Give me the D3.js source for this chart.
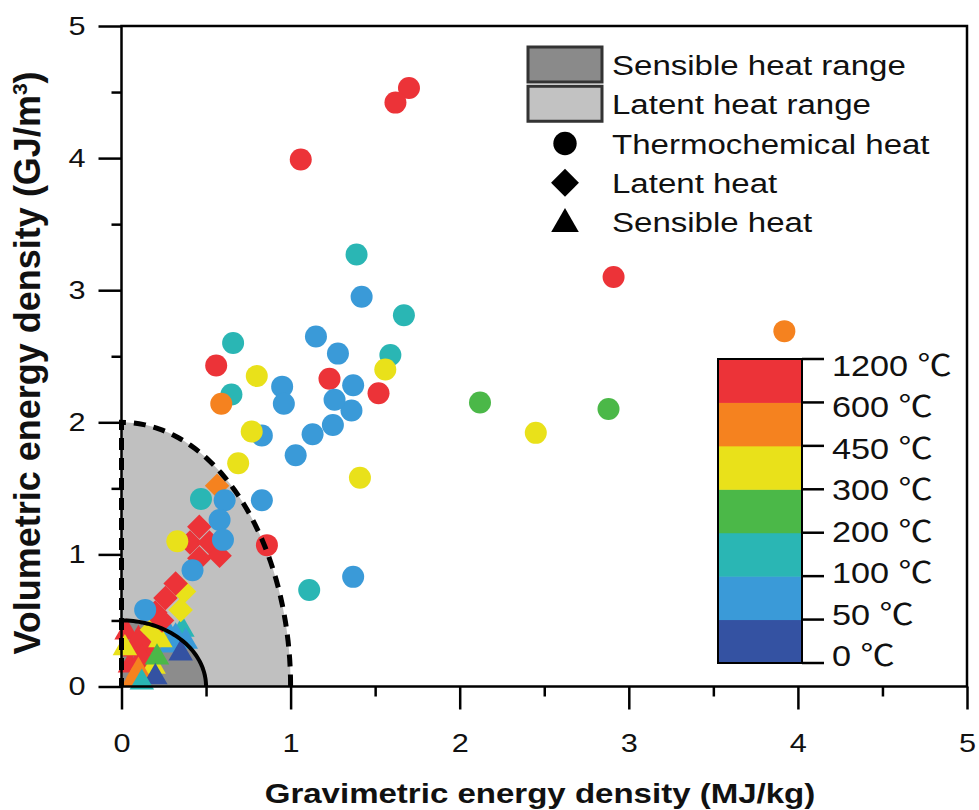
<!DOCTYPE html>
<html>
<head>
<meta charset="utf-8">
<script src="https://cdn.jsdelivr.net/npm/d3@7"></script>
<style>
  body { margin: 0; background: #fff; }
  text { font-family: "Liberation Sans", Arial, "Noto Sans CJK SC", sans-serif; fill: #111; }
</style>
</head>
<body>
<svg id="chart" width="979" height="810"></svg>
<script>
// temperature classes (upper bound of each colour band) and colour bar ticks
const tempBands = [50, 100, 200, 300, 450, 600, 1200];
const tempTicks = [0, 50, 100, 200, 300, 450, 600, 1200];
const axisTicks = [0, 1, 2, 3, 4, 5];

// [gravimetric MJ/kg, volumetric GJ/m3, temperature class]
const thermochemical = [
  [1.70, 4.53, 1200], [1.62, 4.42, 1200], [1.06, 3.99, 1200], [2.91, 3.10, 1200],
  [3.92, 2.69, 600], [1.39, 3.27, 200], [1.42, 2.95, 100], [1.67, 2.81, 200],
  [1.59, 2.51, 200], [1.56, 2.40, 450], [1.37, 2.28, 100], [1.52, 2.22, 1200],
  [1.36, 2.09, 100], [2.12, 2.15, 300], [2.45, 1.92, 450], [2.88, 2.10, 300],
  [0.66, 2.60, 200], [1.15, 2.65, 100], [1.28, 2.52, 100], [0.56, 2.43, 1200],
  [0.80, 2.35, 450], [1.23, 2.33, 1200], [0.95, 2.27, 100], [0.96, 2.14, 100],
  [0.65, 2.21, 200], [0.59, 2.14, 600], [1.26, 2.17, 100], [1.25, 1.98, 100],
  [0.83, 1.90, 100], [0.77, 1.93, 450], [1.13, 1.91, 100], [1.03, 1.75, 100],
  [0.69, 1.69, 450], [1.41, 1.58, 450], [0.83, 1.41, 100], [0.86, 1.07, 1200],
  [1.37, 0.83, 100], [1.11, 0.73, 200], [0.47, 1.42, 200], [0.61, 1.41, 100],
  [0.58, 1.26, 100], [0.60, 1.11, 100], [0.33, 1.10, 450], [0.42, 0.88, 100],
  [0.14, 0.58, 100]
];
const latent = [
  [0.565, 1.52, 600], [0.46, 1.21, 1200], [0.405, 1.09, 1200], [0.52, 1.09, 1200],
  [0.46, 0.97, 1200], [0.58, 0.99, 1200],
  [0.37, 0.72, 450], [0.35, 0.58, 450], [0.18, 0.43, 450],
  [0.32, 0.78, 1200], [0.26, 0.67, 1200], [0.20, 0.56, 1200], [0.24, 0.50, 1200]
];
const sensible = [
  [0.26, 0.44, 100], [0.36, 0.43, 200], [0.29, 0.31, 100], [0.38, 0.34, 100],
  [0.32, 0.38, 100], [0.35, 0.25, 50], [0.03, 0.41, 1200], [0.08, 0.28, 1200],
  [0.14, 0.31, 1200], [0.05, 0.16, 1200], [0.16, 0.19, 1200], [0.10, 0.36, 1200],
  [0.12, 0.22, 1200], [0.02, 0.29, 450], [0.23, 0.35, 450], [0.19, 0.15, 450],
  [0.21, 0.22, 300], [0.10, 0.12, 600], [0.07, 0.05, 600], [0.20, 0.07, 50],
  [0.12, 0.03, 200]
];

const legendRanges = ["Sensible heat range", "Latent heat range"];
const legendMarkers = ["Thermochemical heat", "Latent heat", "Sensible heat"];
const latentRange = [1, 2];     // MJ/kg, GJ/m3
const sensibleRange = [0.5, 0.5];

const SX = 1.18; // the figure is slightly wider than tall
const svg = d3.select("#chart");
svg.append("rect").attr("width", 979).attr("height", 810).attr("fill", "#fff");

const x = d3.scaleLinear().domain([0, 5]).range([121.5, 967]);
const y = d3.scaleLinear().domain([0, 5]).range([686.5, 26]);
const color = d3.scaleOrdinal()
  .domain(tempBands)
  .range(["#3452a2", "#3a9ad8", "#2ab6b4", "#4bb848", "#e9e11a", "#f5821f", "#ec3338"]);

function quarter(r) {
  return d3.range(0, 91, 2).map(a => {
    const t = a * Math.PI / 180;
    return [x(r[0] * Math.cos(t)), y(r[1] * Math.sin(t))];
  });
}

// range areas
const latentPts = quarter(latentRange);
const sensiblePts = quarter(sensibleRange);
const line = d3.line();
svg.append("path")
  .attr("d", line([[x(0), y(0)], ...latentPts]) + "Z")
  .attr("fill", "#c0c0c0");
svg.append("path")
  .attr("d", line([[x(0), y(0)], ...sensiblePts]) + "Z")
  .attr("fill", "#8c8c8c");

// markers
const diamond = d3.symbol().type(d3.symbolSquare).size(300);
const tri = d3.symbol().type(d3.symbolTriangle).size(260);

svg.append("g").selectAll("path").data(sensible).join("path")
  .attr("d", tri)
  .attr("transform", d => `translate(${x(d[0])},${y(d[1])})`)
  .attr("fill", d => color(d[2]));

svg.append("g").selectAll("path").data(latent).join("path")
  .attr("d", diamond)
  .attr("transform", d => `translate(${x(d[0])},${y(d[1])}) rotate(45)`)
  .attr("fill", d => color(d[2]));

svg.append("g").selectAll("circle").data(thermochemical).join("circle")
  .attr("cx", d => x(d[0]))
  .attr("cy", d => y(d[1]))
  .attr("r", 11)
  .attr("fill", d => color(d[2]));

// range outlines
svg.append("path")
  .attr("d", line([...latentPts, [x(0), y(0)]]))
  .attr("fill", "none")
  .attr("stroke", "#000")
  .attr("stroke-width", 5)
  .attr("stroke-dasharray", "12,8");
svg.append("path")
  .attr("d", line(sensiblePts))
  .attr("fill", "none")
  .attr("stroke", "#000")
  .attr("stroke-width", 4);

// axes
const minor = d3.range(0.5, 5, 1);
const xMinor = svg.append("g").attr("transform", `translate(0,${y(0)})`)
  .call(d3.axisBottom(x).tickValues(minor).tickSize(10).tickFormat(""));
const xMajor = svg.append("g").attr("transform", `translate(0,${y(0)})`)
  .call(d3.axisBottom(x).tickValues(axisTicks).tickSize(23).tickPadding(24).tickFormat(d3.format("d")));
const yMinor = svg.append("g").attr("transform", `translate(${x(0)},0)`)
  .call(d3.axisLeft(y).tickValues(minor).tickSize(10).tickFormat(""));
const yMajor = svg.append("g").attr("transform", `translate(${x(0)},0)`)
  .call(d3.axisLeft(y).tickValues(axisTicks).tickSize(23).tickFormat(d3.format("d")));

[xMinor, xMajor, yMinor, yMajor].forEach(g => {
  g.select(".domain").remove();
  g.selectAll("line").attr("stroke", "#000").attr("stroke-width", 2.5);
});
xMajor.selectAll("text")
  .attr("font-size", 26).attr("font-family", null)
  .attr("transform", `scale(${SX},1)`);
yMajor.selectAll("text")
  .attr("font-size", 26).attr("font-family", null)
  .attr("x", -36 / SX)
  .attr("transform", `scale(${SX},1)`);

svg.append("rect")
  .attr("x", x(0)).attr("y", y(5))
  .attr("width", x(5) - x(0)).attr("height", y(0) - y(5))
  .attr("fill", "none").attr("stroke", "#000").attr("stroke-width", 2.5);

// axis titles
function label(px, py, str, size, weight, extra = "", sx = SX) {
  return svg.append("text")
    .attr("transform", `translate(${px},${py}) scale(${sx},1) ${extra}`)
    .attr("font-size", size)
    .attr("font-weight", weight)
    .text(str);
}
label(540, 803, "Gravimetric energy density (MJ/kg)", 28, "bold").attr("text-anchor", "middle");
const yt = label(40, 363, "", 36, "bold", "rotate(-90)", 1).attr("text-anchor", "middle");
yt.append("tspan").text("Volumetric energy density (GJ/m");
yt.append("tspan").text("3").attr("font-size", 21).attr("dy", -13);
yt.append("tspan").text(")").attr("dy", 13);

// legend
const legY = d3.scalePoint().domain([...legendRanges, ...legendMarkers]).range([65, 222]);
svg.append("g").selectAll("rect").data(legendRanges).join("rect")
  .attr("x", 528).attr("y", d => legY(d) - 18)
  .attr("width", 74).attr("height", 35)
  .attr("fill", (d, i) => i === 0 ? "#8a8a8a" : "#c2c2c2")
  .attr("stroke", "#333").attr("stroke-width", 3);
const legSymbols = [
  d3.symbol().type(d3.symbolCircle).size(430),
  d3.symbol().type(d3.symbolSquare).size(390),
  d3.symbol().type(d3.symbolTriangle).size(330)
];
svg.append("g").selectAll("path").data(legendMarkers).join("path")
  .attr("d", (d, i) => legSymbols[i]())
  .attr("transform", (d, i) => `translate(565,${legY(d) + (i === 2 ? 2 : 0)}) rotate(${i === 1 ? 45 : 0})`)
  .attr("fill", "#000");
[...legendRanges, ...legendMarkers].forEach(d => {
  label(612, legY(d) + 10, d, 28, "normal");
});

// colour bar
const bandY = d3.scaleBand().domain([...tempBands].reverse()).range([359, 663]);
const tickY = d3.scalePoint().domain([...tempTicks].reverse()).range([359, 663]);
const textY = d3.scalePoint().domain([...tempTicks].reverse()).range([366, 656]);
svg.append("g").selectAll("rect").data(tempBands).join("rect")
  .attr("x", 718).attr("y", d => bandY(d))
  .attr("width", 84).attr("height", bandY.bandwidth() + 0.5)
  .attr("fill", d => color(d));
svg.append("rect")
  .attr("x", 718).attr("y", 359).attr("width", 84).attr("height", 304)
  .attr("fill", "none").attr("stroke", "#000").attr("stroke-width", 2);
svg.append("g").selectAll("line").data(tempTicks).join("line")
  .attr("x1", 802).attr("x2", 824)
  .attr("y1", d => tickY(d)).attr("y2", d => tickY(d))
  .attr("stroke", "#000").attr("stroke-width", 2.5);
tempTicks.forEach(t => {
  label(832, textY(t) + 10, `${t} ℃`, 29, "normal");
});
</script>
</body>
</html>
